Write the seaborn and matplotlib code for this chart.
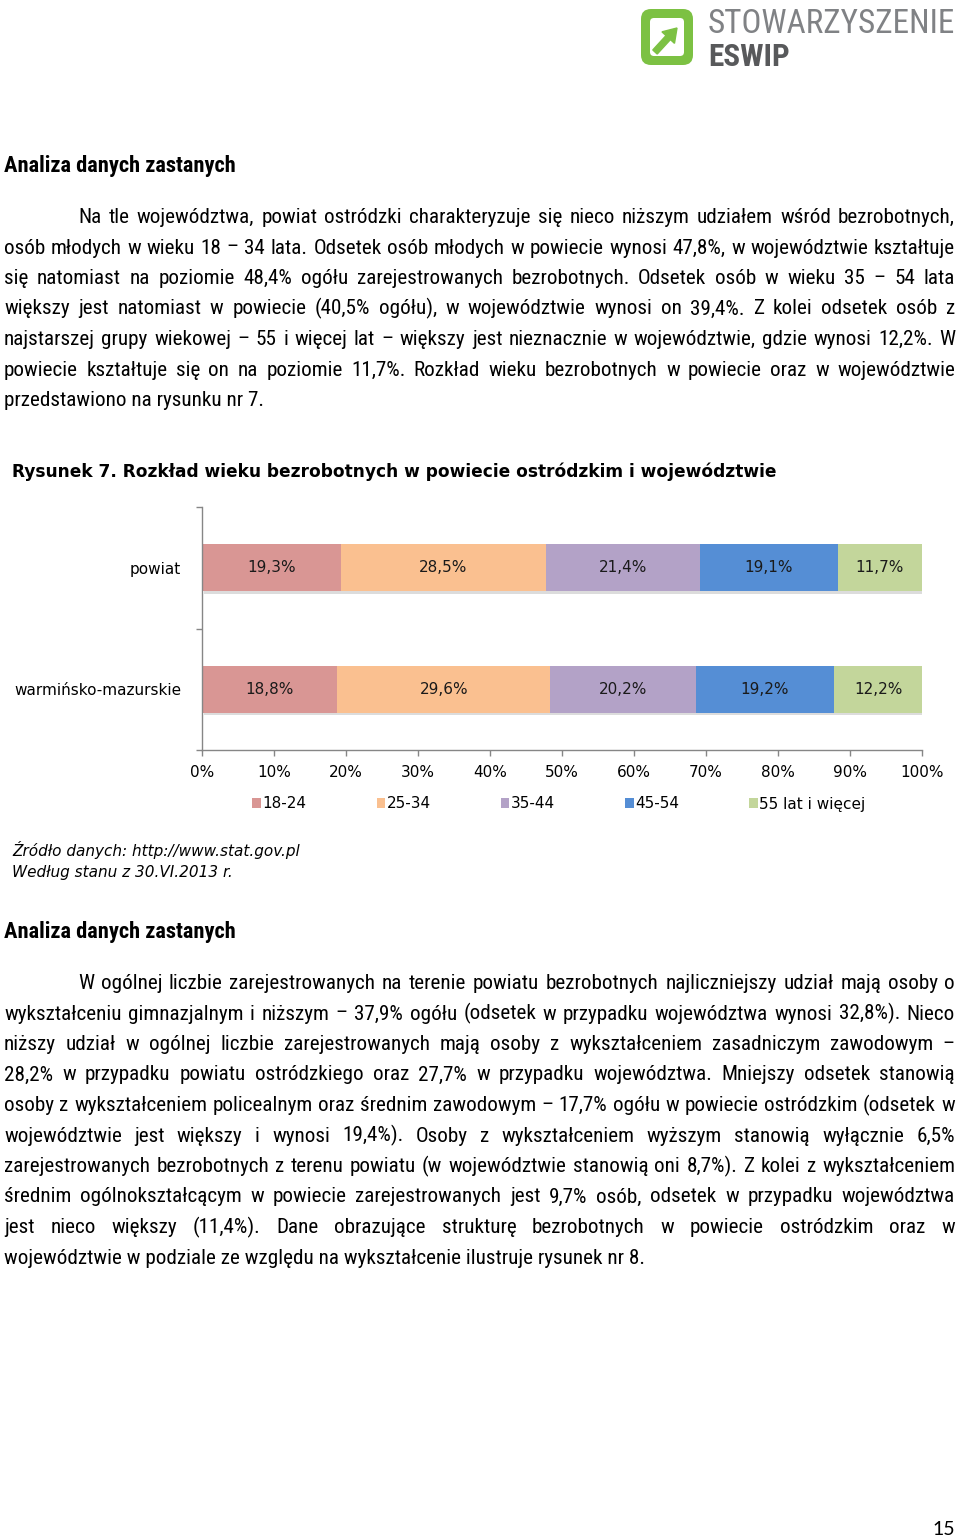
import matplotlib
matplotlib.use("Agg")
import numpy as np
import pandas as pd
import seaborn as sns
import matplotlib.pyplot as plt
import matplotlib.patheffects as pe
from matplotlib import font_manager
from matplotlib.patches import Patch, FancyBboxPatch, FancyArrow

# chart data
regions = ["powiat", "warmińsko-mazurskie"]
age_groups = ["18-24", "25-34", "35-44", "45-54", "55 lat i więcej"]
powiat = [19.3, 28.5, 21.4, 19.1, 11.7]
wojewodztwo = [18.8, 29.6, 20.2, 19.2, 12.2]
colors = ["#D99694", "#FAC090", "#B3A2C7", "#558ED5", "#C3D69B"]
x_ticks = list(range(0, 101, 10))

# page text
heading = "Analiza danych zastanych"
para1 = [
    "Na tle województwa, powiat ostródzki charakteryzuje się nieco niższym udziałem wśród bezrobotnych,",
    "osób młodych w wieku 18 – 34 lata. Odsetek osób młodych w powiecie wynosi 47,8%, w województwie kształtuje",
    "się natomiast na poziomie 48,4% ogółu zarejestrowanych bezrobotnych. Odsetek osób w wieku 35 – 54 lata",
    "większy jest natomiast w powiecie (40,5% ogółu), w województwie wynosi on 39,4%. Z kolei odsetek osób z",
    "najstarszej grupy wiekowej – 55 i więcej lat – większy jest nieznacznie w województwie, gdzie wynosi 12,2%. W",
    "powiecie kształtuje się on na poziomie 11,7%. Rozkład wieku bezrobotnych w powiecie oraz w województwie",
    "przedstawiono na rysunku nr 7.",
]
para2 = [
    "W ogólnej liczbie zarejestrowanych na terenie powiatu bezrobotnych najliczniejszy udział mają osoby o",
    "wykształceniu gimnazjalnym i niższym – 37,9% ogółu (odsetek w przypadku województwa wynosi 32,8%). Nieco",
    "niższy udział w ogólnej liczbie zarejestrowanych mają osoby z wykształceniem zasadniczym zawodowym –",
    "28,2% w przypadku powiatu ostródzkiego oraz 27,7% w przypadku województwa. Mniejszy odsetek stanowią",
    "osoby z wykształceniem policealnym oraz średnim zawodowym – 17,7% ogółu w powiecie ostródzkim (odsetek w",
    "województwie jest większy i wynosi 19,4%). Osoby z wykształceniem wyższym stanowią wyłącznie 6,5%",
    "zarejestrowanych bezrobotnych z terenu powiatu (w województwie stanowią oni 8,7%). Z kolei z wykształceniem",
    "średnim ogólnokształcącym w powiecie zarejestrowanych jest 9,7% osób, odsetek w przypadku województwa",
    "jest nieco większy (11,4%). Dane obrazujące strukturę bezrobotnych w powiecie ostródzkim oraz w",
    "województwie w podziale ze względu na wykształcenie ilustruje rysunek nr 8.",
]
fig_title = "Rysunek 7. Rozkład wieku bezrobotnych w powiecie ostródzkim i województwie"
source = ["Źródło danych: http://www.stat.gov.pl", "Według stanu z 30.VI.2013 r."]

W, H = 960, 1539

fig = plt.figure(figsize=(W / 100, H / 100), dpi=100)
renderer = fig.canvas.get_renderer()

# full-page overlay in pixel coordinates (y down)
ov = fig.add_axes([0, 0, 1, 1])
ov.set_xlim(0, W)
ov.set_ylim(H, 0)
ov.axis("off")


def width_of(t):
    return t.get_window_extent(renderer=renderer).width


def fit(t, target):
    t.set_fontsize(t.get_fontsize() * target / width_of(t))
    return t


# pick the narrowest installed sans (the page uses Arial Narrow)
best, best_w = "Liberation Sans", None
for name in ["Liberation Sans Narrow", "Roboto Condensed", "Arial Narrow", "Roboto", "Lato",
             "Liberation Sans"]:
    try:
        font_manager.findfont(font_manager.FontProperties(family=name), fallback_to_default=False)
    except ValueError:
        continue
    t = ov.text(0, 0, para2[-1], family=name, fontsize=14)
    w = width_of(t)
    t.remove()
    if best_w is None or w < best_w:
        best, best_w = name, w
body_font = [best, "DejaVu Sans"]
body_size = 14 * 643 / best_w


def justify(line, x0, x1, y, size):
    words = line.split()
    arts = [ov.text(0, y, w, va="baseline", family=body_font, fontsize=size) for w in words]
    widths = [width_of(a) for a in arts]
    gap = (x1 - x0 - sum(widths)) / (len(words) - 1)
    x = x0
    for a, w in zip(arts, widths):
        a.set_x(x)
        x += w + gap


def paragraph(lines, y0, size):
    for k, line in enumerate(lines):
        y = y0 + 30.5 * k
        x0 = 78 if k == 0 else 4
        if k == len(lines) - 1:
            ov.text(x0, y, line, va="baseline", family=body_font, fontsize=size)
        else:
            justify(line, x0, 955, y, size)


for yb in (172, 938):
    fit(ov.text(4, yb, heading, va="baseline", family=body_font, weight="bold",
                fontsize=14), 234)
paragraph(para1, 223, body_size)
paragraph(para2, 989, body_size)

fit(ov.text(12, 477, fig_title, va="baseline", weight="bold", fontsize=12), 765)
src = fit(ov.text(12, 856, source[0], va="baseline", style="italic", fontsize=10), 288)
ov.text(12, 877, source[1], va="baseline", style="italic", fontsize=src.get_fontsize())

ov.text(955, 1535, "15", ha="right", va="baseline", family=["Lato", "DejaVu Sans"],
        fontsize=14)

# logo
green = "#7CC143"
ov.add_patch(FancyBboxPatch((641, 9), 52, 56, boxstyle="round,pad=0,rounding_size=10",
                            fc=green, ec="none"))
ov.add_patch(FancyBboxPatch((650, 18), 34, 38, boxstyle="round,pad=0,rounding_size=4",
                            fc="white", ec="none"))
ov.add_patch(FancyArrow(655, 52, 22, -24, width=6, head_width=17, head_length=13,
                        length_includes_head=True, color=green))
fit(ov.text(708, 33, "STOWARZYSZENIE", va="baseline", family=body_font, color="#808285",
            fontsize=24), 247)
fit(ov.text(708, 66, "ESWIP", va="baseline", family=body_font, weight="bold",
            color="#58595B", fontsize=24), 82)

# chart
ax = fig.add_axes([202 / W, 1 - 750 / H, 720 / W, 243 / H])
ax.set_facecolor("none")

df = pd.DataFrame({"region": regions})
for i, g in enumerate(age_groups):
    df[g] = [powiat[i], wojewodztwo[i]]
cum = df[age_groups].cumsum(axis=1)

first = True
for g, c in zip(reversed(age_groups), reversed(colors)):
    d = pd.DataFrame({"region": regions, "value": cum[g]})
    sns.barplot(data=d, x="value", y="region", orient="h", color=c, saturation=1,
                width=0.39, linewidth=0, ax=ax)
    if first:
        for p in ax.patches:
            p.set_path_effects([pe.SimplePatchShadow(offset=(1.5, -1.5), shadow_rgbFace="#8c8c8c",
                                                     alpha=0.3), pe.Normal()])
        first = False

for i in range(len(regions)):
    for g in age_groups:
        v = df.loc[i, g]
        ax.text(cum.loc[i, g] - v / 2, i, f"{v:.1f}".replace(".", ",") + "%",
                ha="center", va="center", fontsize=11, color="#1a1a1a")

gray = "#868686"
ax.set_xlim(0, 100)
ax.set_ylim(1.5, -0.5)
ax.set_xticks(x_ticks)
ax.set_xticklabels([f"{t}%" for t in x_ticks])
ax.set_yticks([-0.5, 0.5, 1.5], minor=True)
ax.tick_params(axis="x", length=4, width=1, color=gray, pad=6.5, labelsize=11)
ax.tick_params(axis="y", which="major", length=0, pad=15, labelsize=11)
ax.tick_params(axis="y", which="minor", length=4, width=1, color=gray)
ax.set_xlabel("")
ax.set_ylabel("")
for s in ("top", "right"):
    ax.spines[s].set_visible(False)
for s in ("left", "bottom"):
    ax.spines[s].set_color(gray)
    ax.spines[s].set_linewidth(1)

handles = [Patch(facecolor=c, edgecolor="none") for c in colors]
fig.legend(handles, age_groups, loc="center", bbox_to_anchor=(559 / W, 1 - 804 / H), ncol=5,
           frameon=False, fontsize=11, handlelength=0.55, handleheight=0.55,
           handletextpad=0.1, columnspacing=4.6)

fig.savefig("out.png", dpi=100)
